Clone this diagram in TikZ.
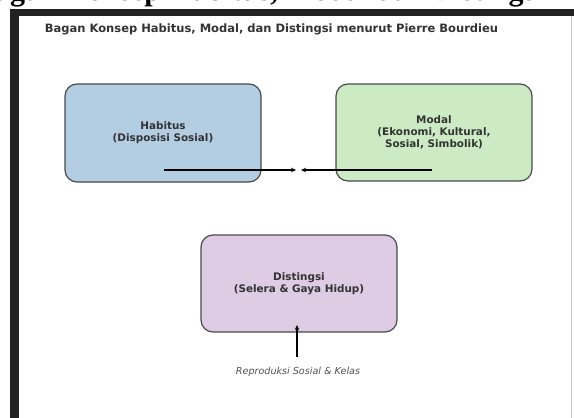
\documentclass[tikz,border=0pt]{standalone}
\usepackage{fontspec}
\setmainfont{DejaVu Sans}
\newfontfamily\capfont{Liberation Serif}
\usetikzlibrary{arrows.meta}
\definecolor{frameblack}{HTML}{222222}
\definecolor{txtgray}{HTML}{333333}
\definecolor{edgegray}{HTML}{4A4A4A}
\definecolor{pblue}{HTML}{B3CDE3}
\definecolor{pgreen}{HTML}{CCEBC5}
\definecolor{ppurple}{HTML}{DECBE4}
\tikzset{
  conceptbox/.style={draw=edgegray, line width=1.2pt, rounded corners=12pt,
    minimum width=196pt, minimum height=97pt, align=center, text=txtgray,
    font=\fontsize{10.4}{12}\selectfont\bfseries, inner sep=0pt},
  flowarrow/.style={line width=1.2pt, draw=black,
    -{Stealth[length=5pt,width=4.5pt]}},
}
\begin{document}
\begin{tikzpicture}[x=1pt,y=-1pt]
\useasboundingbox (0,0) rectangle (574,418);
\clip (0,0) rectangle (574,418);
% outer frame of the figure
\fill[white] (0,0) rectangle (574,418);
\fill[frameblack] (10,9) rectangle (574,16);
\fill[frameblack] (10,9) rectangle (19,418);
\draw[gray!40, line width=0.6pt] (571.5,16) -- (571.5,418);
% cut caption above the figure
\node[anchor=base west, inner sep=0pt, font=\capfont\bfseries\fontsize{30}{36}\selectfont]
  (caption) at (-25,0.5) {Bagan Konsep Habitus, Modal dan Distingsi menurut Pierre Bourdieu};
% title
\node[text=txtgray, font=\fontsize{11.5}{13}\selectfont\bfseries] (title) at (271.5,29)
  {Bagan Konsep Habitus, Modal, dan Distingsi menurut Pierre Bourdieu};
% boxes
\node[conceptbox, fill=pblue, minimum height=98pt] (habitus) at (163,133)
  {Habitus\\(Disposisi Sosial)};
\node[conceptbox, fill=pgreen] (modal) at (434,132.5)
  {Modal\\(Ekonomi, Kultural,\\Sosial, Simbolik)};
\node[conceptbox, fill=ppurple] (distingsi) at (299,283.5)
  {Distingsi\\(Selera \& Gaya Hidup)};
% arrows
\coordinate (hstart) at (164,170);
\coordinate (hend) at (296,170);
\coordinate (mstart) at (432,170);
\coordinate (mend) at (301,170);
\coordinate (rstart) at (297,357);
\coordinate (rend) at (297,325);
\draw[flowarrow] (hstart) -- (hend);
\draw[flowarrow] (mstart) -- (mend);
\draw[flowarrow] (rstart) -- (rend);
\node[text=txtgray!85, font=\fontsize{9.6}{11}\selectfont\itshape] (repro) at (298,372)
  {Reproduksi Sosial \& Kelas};
\end{tikzpicture}
\end{document}
